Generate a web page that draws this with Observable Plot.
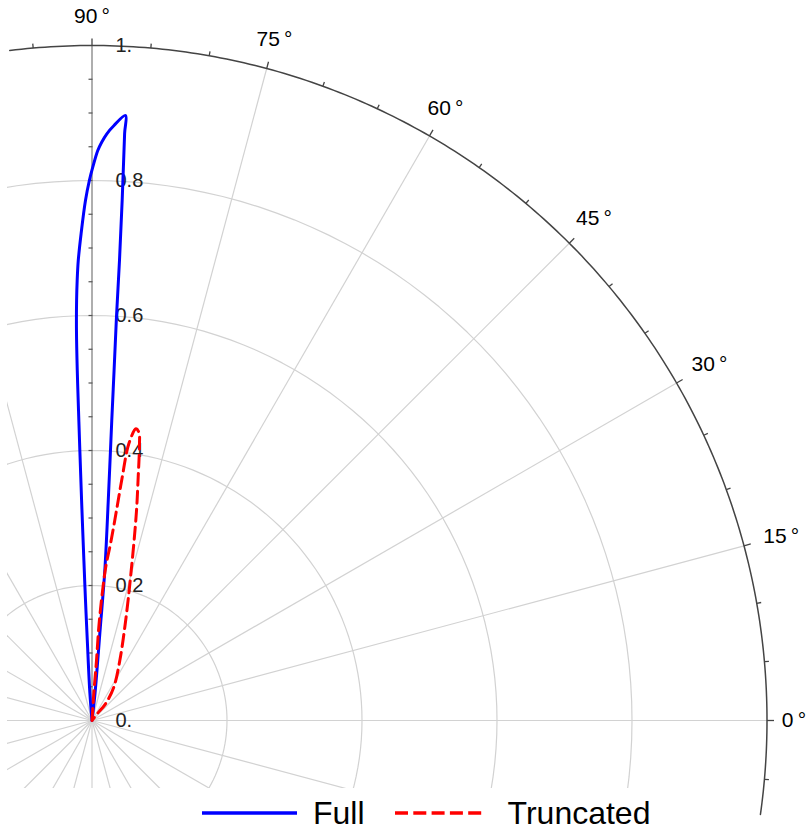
<!DOCTYPE html>
<html><head><meta charset="utf-8">
<script src="https://cdn.jsdelivr.net/npm/d3@7"></script>
<script src="https://cdn.jsdelivr.net/npm/@observablehq/plot@0.6"></script>
<style>
body{margin:0;background:#fff;font-family:"Liberation Sans",Arial,sans-serif;}
#wrap{position:relative;width:806px;height:830px;overflow:hidden;background:#fff;}
#chart{position:absolute;left:0;top:0;}
#legend{position:absolute;left:0;top:795px;height:35px;width:806px;display:flex;align-items:center;font-size:32px;color:#000;line-height:1;}
#legend .item{display:flex;align-items:center;}
</style></head><body>
<div id="wrap"><div id="chart"></div><div id="legend"></div></div>
<script>
// ---- data (polar: angle in degrees, radius) ----
const seriesNames = ["Full", "Truncated"];
const seriesColors = ["#0000ff", "#ff0000"];

const fullAngle  = [94.45, 94.45, 93.36, 93.10, 92.90, 92.71, 92.58, 92.49, 92.41, 92.28, 92.10, 91.93, 91.71, 91.28, 90.72, 90.28, 89.92, 89.42, 89.04, 88.55, 87.88, 86.83, 86.82, 86.68, 86.58, 86.53, 86.39, 86.23, 85.77, 85.12, 84.90, 83.67, 83.67];
const fullRadius = [0,     0.0401, 0.1187, 0.1781, 0.2373, 0.3263, 0.3989, 0.4597, 0.5190, 0.5783, 0.6226, 0.6523, 0.6818, 0.7217, 0.7705, 0.8000, 0.8197, 0.8444, 0.8568, 0.8695, 0.8821, 0.8977, 0.8710, 0.7717, 0.6827, 0.5996, 0.5195, 0.4454, 0.3268, 0.2230, 0.1383, 0.0402, 0];

const truncAngle  = [86.18, 86.18, 85.71, 85.83, 85.40, 84.84, 84.02, 83.35, 82.92, 82.42, 81.42, 80.74, 80.26, 79.25, 78.03, 76.69, 75.35, 73.80, 70.63, 65.14, 56.77, 51.0, 52.1, 52.1];
const truncRadius = [0,     0.0401, 0.0891, 0.1386, 0.1883, 0.2305, 0.2632, 0.3132, 0.3632, 0.4135, 0.4370, 0.4323, 0.4159, 0.3668, 0.3180, 0.2690, 0.2297, 0.1955, 0.1465, 0.0980, 0.0589, 0.0318, 0.0125, 0];

// ---- axes / grid ----
const gridRadii = [0.2, 0.4, 0.6, 0.8];
const radialTicks = [0, 0.2, 0.4, 0.6, 0.8, 1];
const radialTickLabels = ["0.", "0.2", "0.4", "0.6", "0.8", "1."];
const angleTicks = [0, 15, 30, 45, 60, 75, 90];
const angleTickLabels = ["0\u2009°", "15\u2009°", "30\u2009°", "45\u2009°", "60\u2009°", "75\u2009°", "90\u2009°"];

// ---- layout ----
const W = 806, H = 795;
const cx = 91.5, cy = 720, k = 675; // centre and px per unit
const mL = 7, mR = 0, mT = 30, mB = 7;
const labelOffsetPx = [27, 38.5, 38, 35, 32, 30, 29.5]; // distance of angle labels beyond the rim
const xDomain = [-(cx - mL) / k, (W - mR - cx) / k];
const yDomain = [-((H - mB) - cy) / k, (cy - mT) / k];

const rad = a => a * Math.PI / 180;
const X = d => d.r * Math.cos(rad(d.a));
const Y = d => d.r * Math.sin(rad(d.a));

const full = fullAngle.map((a, i) => ({a, r: fullRadius[i]}));
const trunc = truncAngle.map((a, i) => ({a, r: truncRadius[i]}));

const circles = gridRadii.flatMap(r => d3.range(0, 361, 2).map(a => ({r, a})));
const spokes = d3.range(0, 360, 15);
const rMax = d3.max(radialTicks);
const arc = d3.range(-8, 97.3, 0.5).map(a => ({r: rMax, a}));
const arcTicks = d3.range(-5, 96, 5);
const vTicks = d3.range(1, 20).map(i => i * 0.05);
const labelR = (i) => rMax + labelOffsetPx[i] / k;

const chart = Plot.plot({
  width: W, height: H,
  marginLeft: mL, marginRight: mR, marginTop: mT, marginBottom: mB,
  x: {domain: xDomain, axis: null},
  y: {domain: yDomain, axis: null},
  style: {fontFamily: "'Liberation Sans', Arial, sans-serif", background: "white", overflow: "visible"},
  marks: [
    Plot.line(circles, {x: X, y: Y, z: "r", stroke: "#d2d2d2", strokeWidth: 1.2, clip: true}),
    Plot.link(spokes, {x1: () => 0, y1: () => 0, x2: a => rMax * Math.cos(rad(a)), y2: a => rMax * Math.sin(rad(a)), stroke: "#d2d2d2", strokeWidth: 1.2, clip: true}),
    Plot.link([rMax], {x1: () => 0, y1: () => 0, x2: () => 0, y2: r => r, stroke: "#a0a0a0", strokeWidth: 1.6}),
    Plot.link(vTicks, {x1: () => -3.5 / k, x2: () => 0.5 / k, y1: v => v, y2: v => v, stroke: "#555", strokeWidth: 1.2}),
    Plot.line(arc, {x: X, y: Y, stroke: "#444", strokeWidth: 1.5}),
    Plot.link(arcTicks, {
      x1: a => rMax * Math.cos(rad(a)), y1: a => rMax * Math.sin(rad(a)),
      x2: a => (rMax + (a % 15 === 0 ? 7 : 4.5) / k) * Math.cos(rad(a)),
      y2: a => (rMax + (a % 15 === 0 ? 7 : 4.5) / k) * Math.sin(rad(a)),
      stroke: "#444", strokeWidth: 1.3
    }),
    Plot.text(radialTicks, {x: () => 0, y: r => r, text: (d, i) => radialTickLabels[i], dx: 23.5, textAnchor: "start", fontSize: 20, fill: "#222"}),
    Plot.text(angleTicks, {x: (a, i) => labelR(i) * Math.cos(rad(a)), y: (a, i) => labelR(i) * Math.sin(rad(a)), text: (d, i) => angleTickLabels[i], fontSize: 21, fill: "#000"}),
    Plot.line(full, {x: X, y: Y, stroke: seriesColors[0], strokeWidth: 3, curve: "catmull-rom", strokeLinejoin: "round"}),
    Plot.line(trunc, {x: X, y: Y, stroke: seriesColors[1], strokeWidth: 3, curve: "catmull-rom", strokeDasharray: "12,6", strokeLinejoin: "round"})
  ]
});
document.getElementById("chart").appendChild(chart);

// ---- legend ----
const legend = document.getElementById("legend");
const swatchW = [95, 88];
const gapsBefore = [202, 30];
seriesNames.forEach((name, i) => {
  const item = document.createElement("div");
  item.className = "item";
  item.style.marginLeft = gapsBefore[i] + "px";
  const dash = i === 1 ? ' stroke-dasharray="13,5.3"' : '';
  item.innerHTML = `<svg width="${swatchW[i]}" height="10"><line x1="0" y1="5" x2="${swatchW[i]}" y2="5" stroke="${seriesColors[i]}" stroke-width="3.5"${dash}/></svg><span style="margin-left:${i === 0 ? 16 : 25}px">${name}</span>`;
  legend.appendChild(item);
});
</script>
</body></html>
